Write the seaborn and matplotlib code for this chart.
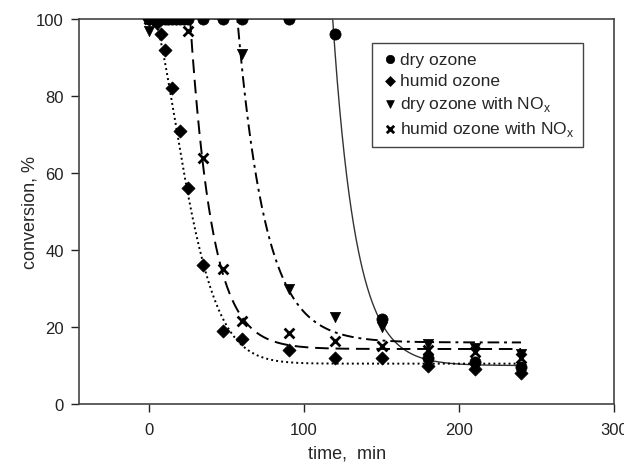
import numpy as np
import pandas as pd
import matplotlib
matplotlib.use("Agg")
import matplotlib.pyplot as plt
import seaborn as sns

# measured points (time in min, conversion in %)
dry_t = [0, 2.5, 5, 7.5, 10, 12.5, 15, 17.5, 20, 22.5, 25, 35, 47.5, 60, 90, 120, 150, 180, 210, 240]
dry_y = [100, 100, 100, 100, 100, 100, 100, 100, 100, 100, 100, 100, 100, 100, 100, 96, 22, 12, 11, 9.5]

humid_t = [0, 2.5, 5, 7.5, 10, 15, 20, 25, 35, 47.5, 60, 90, 120, 150, 180, 210, 240]
humid_y = [100, 100, 99, 96, 92, 82, 71, 56, 36, 19, 17, 14, 12, 12, 10, 9, 8]

drynox_t = [0, 5, 10, 15, 20, 25, 35, 47.5, 60, 90, 120, 150, 180, 210, 240]
drynox_y = [97, 100, 100, 100, 100, 100, 100, 100, 91, 30, 22.5, 20, 15.5, 14.5, 13]

humidnox_t = [0, 5, 10, 15, 20, 25, 35, 47.5, 60, 90, 120, 150, 180, 210, 240]
humidnox_y = [100, 100, 100, 100, 100, 97, 64, 35, 21.5, 18.5, 16.5, 15, 14, 13.5, 12]

labels = ["dry ozone", "humid ozone",
          r"dry ozone with NO$_\mathregular{x}$",
          r"humid ozone with NO$_\mathregular{x}$"]

# fitted curves: y = floor + (100 - floor) * exp(-((t - t0) / tau) ** n), capped at 100
fit_t0 = [118.5, 3, 57, 26.5]
fit_tau = [15.0, 27.8, 18.2, 14.3]
fit_n = [1, 1.5, 1, 1]
fit_floor = [10, 10.5, 16, 14.3]

sns.set_style("ticks")
plt.rcParams["font.family"] = ["Liberation Sans", "DejaVu Sans"]

fig = plt.figure(figsize=(6.24, 4.64), dpi=100)
ax = fig.add_axes([0.127, 0.127, 0.857, 0.83])

series = [(dry_t, dry_y), (humid_t, humid_y), (drynox_t, drynox_y), (humidnox_t, humidnox_y)]
markers = ["o", "D", "v", "x"]
sizes = [65, 45, 55, 50]
line_styles = ["-", (0, (1, 1.6)), (0, (6, 2.5, 1.5, 2.5)), (0, (7, 3.5))]
line_colors = ["#333333", "black", "black", "black"]
line_widths = [1.0, 1.4, 1.4, 1.4]

t_grid = np.linspace(0, 240, 961)
for i in range(4):
    dt = np.clip(t_grid - fit_t0[i], 0, None)
    fit = fit_floor[i] + (100 - fit_floor[i]) * np.exp(-(dt / fit_tau[i]) ** fit_n[i])
    fit = np.minimum(fit, 100)
    sns.lineplot(x=t_grid, y=fit, ax=ax, color=line_colors[i], linewidth=line_widths[i],
                 linestyle=line_styles[i], estimator=None, sort=False)

for i, (t, y) in enumerate(series):
    df = pd.DataFrame({"t": t, "y": y})
    if markers[i] == "x":
        sns.scatterplot(data=df, x="t", y="y", ax=ax, marker="x", s=sizes[i],
                        color="black", linewidth=2, label=labels[i], zorder=3)
    else:
        sns.scatterplot(data=df, x="t", y="y", ax=ax, marker=markers[i], s=sizes[i],
                        color="black", edgecolor="black", linewidth=0.5,
                        label=labels[i], zorder=3)

ax.set_xlim(-45, 300)
ax.set_ylim(0, 100)
ax.set_xticks([0, 100, 200, 300])
ax.set_yticks([0, 20, 40, 60, 80, 100])
ax.tick_params(labelsize=12, length=6, width=1, colors="#222222")
ax.tick_params(axis="x", pad=7)
ax.tick_params(axis="y", pad=5)
for sp in ax.spines.values():
    sp.set_color("#444444")
    sp.set_linewidth(1.2)
ax.set_xlabel("time,  min", fontsize=13, labelpad=5)
ax.set_ylabel("conversion, %", fontsize=13, labelpad=-2)

leg = ax.legend(loc="upper right", bbox_to_anchor=(0.958, 0.96), fontsize=12.5,
                frameon=True, fancybox=False, edgecolor="#444444", framealpha=1,
                handletextpad=0.0, labelspacing=0.35, borderpad=0.5, handlelength=1.1,
                markerscale=0.75)
leg.get_frame().set_linewidth(1.0)

fig.savefig("out.png", dpi=100)
